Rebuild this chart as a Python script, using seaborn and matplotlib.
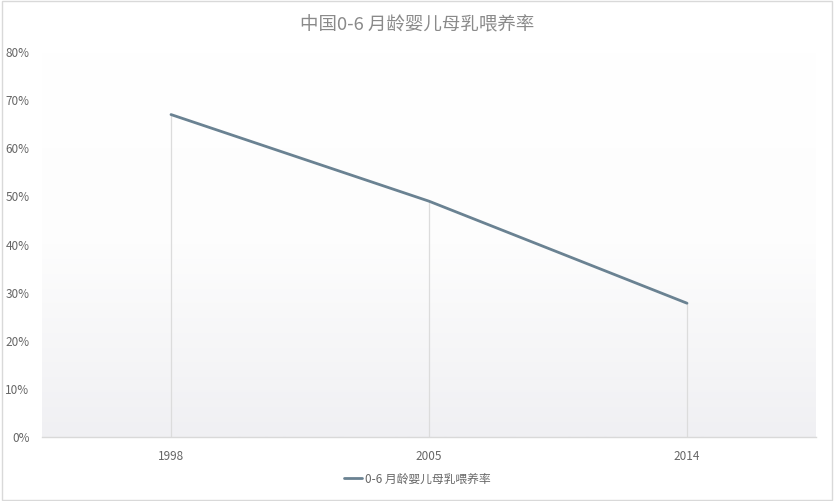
import numpy as np
import pandas as pd
import matplotlib
matplotlib.use("Agg")
import matplotlib.pyplot as plt
import seaborn as sns
from matplotlib.ticker import FuncFormatter, MultipleLocator
from matplotlib.patches import Rectangle
from matplotlib.colors import LinearSegmentedColormap

years = ["1998", "2005", "2014"]
rates = [0.67, 0.49, 0.278]
series_name = "0-6 月龄婴儿母乳喂养率"
title = "中国0-6 月龄婴儿母乳喂养率"

sns.set_theme(style="white")
plt.rcParams['font.family'] = ['Noto Sans CJK SC', 'DejaVu Sans']

df = pd.DataFrame({"year": years, "rate": rates})

fig = plt.figure(figsize=(8.34, 5.01), dpi=100)
ax = fig.add_axes([42/834, (501-437)/501, (816-42)/834, (437-52)/501])

# gradient background
cmap = LinearSegmentedColormap.from_list("bg", ["#ffffff", "#fdfdfd", "#f0f0f3"])
grad = np.linspace(0, 1, 256).reshape(-1, 1)
ax.imshow(grad, aspect="auto", cmap=cmap, extent=[0, 1, 0, 1],
          transform=ax.transAxes, zorder=0, origin="upper")

line_color = "#6a8292"
sns.lineplot(data=df, x="year", y="rate", ax=ax, color=line_color,
             linewidth=2.0, label=series_name, zorder=3, sort=False)
xs = np.arange(len(years))
ax.vlines(xs, 0, rates, colors="#dcdcdc", linewidth=0.9, zorder=2)

ax.set_xlim(-0.5, len(years) - 0.5)
ax.set_ylim(0, 0.8)
ax.yaxis.set_major_locator(MultipleLocator(0.1))
ax.yaxis.set_major_formatter(FuncFormatter(lambda v, p: f"{v*100:.0f}%"))
ax.set_xlabel("")
ax.set_ylabel("")
for s in ["top", "right", "left"]:
    ax.spines[s].set_visible(False)
ax.spines["bottom"].set_color("#d9d9d9")
ax.spines["bottom"].set_linewidth(1.0)
ax.tick_params(axis="y", length=0, pad=9, labelsize=8.5, labelcolor="#666666")
ax.tick_params(axis="x", length=0, pad=9, labelsize=8.5, labelcolor="#666666")
ax.grid(False)

fig.text(0.5, 1 - 25/501, title, ha="center", va="center",
         fontsize=13.3, color="#8a8a8a")

ax.legend(loc="center", bbox_to_anchor=(0.5, 22/501), bbox_transform=fig.transFigure,
          frameon=False, fontsize=8.5, labelcolor="#666666",
          handlelength=1.6, handletextpad=0.2)

fig.patches.append(Rectangle((0.002, 0.002), 0.996, 0.996, transform=fig.transFigure,
                             fill=False, edgecolor="#d9d9d9", linewidth=1.0))

fig.savefig("out.png", dpi=100)
